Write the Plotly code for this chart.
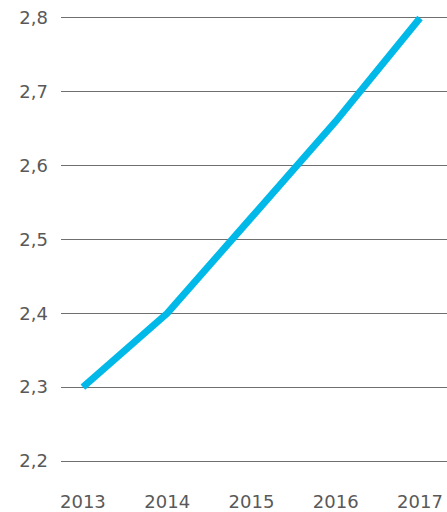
import plotly.graph_objects as go

years = [2013, 2014, 2015, 2016, 2017]
values = [2.3, 2.4, 2.53, 2.66, 2.8]
y_ticks = [2.2, 2.3, 2.4, 2.5, 2.6, 2.7, 2.8]

fig = go.Figure()
fig.add_trace(go.Scatter(
    x=years, y=values, mode="lines",
    line=dict(color="#00B9E8", width=7),
    showlegend=False, hoverinfo="skip",
))

font = dict(family="DejaVu Sans", size=18, color="#595959")
fig.update_layout(
    width=447, height=512,
    margin=dict(l=61, r=0, t=3, b=47),
    paper_bgcolor="white", plot_bgcolor="white",
    separators=", ",
    font=font,
)
fig.update_xaxes(
    range=[2012.74, 2017.32], tickvals=years, ticktext=[str(y) for y in years],
    showgrid=False, zeroline=False, showline=False, ticks="",
    ticklabelstandoff=24, tickfont=font,
)
fig.update_yaxes(
    range=[2.1946, 2.8203], tickvals=y_ticks, tickformat=".1f",
    showgrid=True, gridcolor="#6f6f6f", gridwidth=1,
    zeroline=False, showline=False, ticks="",
    ticklabelstandoff=12, tickfont=font,
)
fig.write_html("out.html")
